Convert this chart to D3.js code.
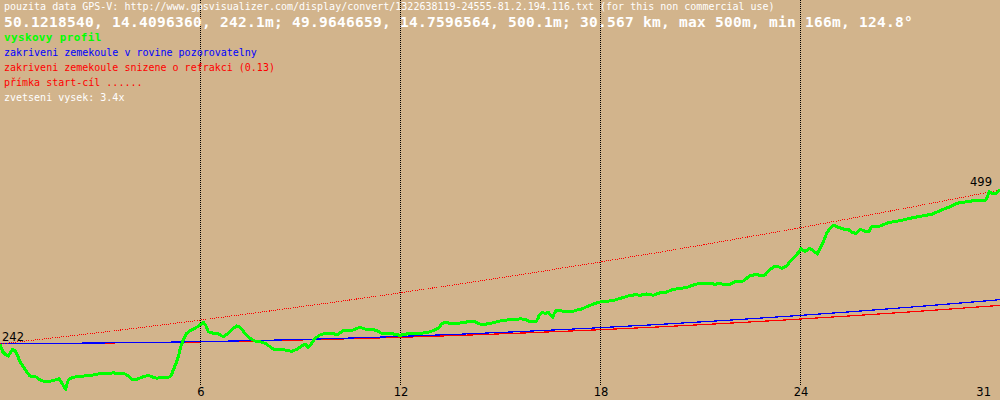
<!DOCTYPE html>
<html>
<head>
<meta charset="utf-8">
<script src="https://cdn.jsdelivr.net/npm/d3@7"></script>
<style>
  html, body { margin: 0; padding: 0; background: #d2b48c; }
  svg { display: block; }
</style>
</head>
<body>
<div id="chart"></div>
<script>
// ---- data ----
const totalKm = 30.567;
const startElev = 242.1;
const endElev = 500.1;

// elevation profile (km, m)
const profileKm = [0.000,0.083,0.183,0.254,0.306,0.388,0.459,0.529,0.611,0.712,0.816,0.917,1.018,1.122,1.223,1.324,1.476,1.629,1.733,1.803,1.886,1.956,2.008,2.039,2.088,2.192,2.345,2.497,2.650,2.852,3.005,3.262,3.463,3.616,3.769,3.922,4.056,4.178,4.331,4.533,4.686,4.790,4.943,5.144,5.227,5.297,5.380,5.450,5.523,5.603,5.686,5.808,5.961,6.113,6.214,6.288,6.367,6.520,6.673,6.826,6.979,7.131,7.235,7.336,7.489,7.642,7.795,7.947,8.100,8.253,8.354,8.559,8.712,8.916,9.069,9.222,9.323,9.424,9.528,9.629,9.781,9.934,10.188,10.292,10.393,10.494,10.698,10.851,11.004,11.157,11.362,11.515,11.667,11.820,12.022,12.227,12.432,12.634,12.838,13.043,13.245,13.398,13.501,13.602,13.755,13.960,14.162,14.315,14.468,14.571,14.672,14.877,15.079,15.284,15.488,15.641,15.742,15.895,16.048,16.201,16.384,16.445,16.485,16.558,16.690,16.760,16.833,16.894,16.943,17.016,17.218,17.524,17.628,17.781,17.934,18.136,18.340,18.545,18.799,19.003,19.205,19.410,19.563,19.768,19.970,20.174,20.379,20.581,20.786,20.990,21.192,21.397,21.703,21.855,22.008,22.161,22.314,22.519,22.721,22.824,22.925,23.130,23.283,23.384,23.485,23.589,23.689,23.790,23.894,24.047,24.148,24.301,24.402,24.484,24.606,24.738,24.860,24.983,25.065,25.166,25.270,25.371,25.493,25.624,25.777,25.930,26.034,26.166,26.288,26.349,26.492,26.563,26.645,26.899,27.153,27.459,27.816,28.222,28.479,28.733,29.039,29.243,29.445,29.751,30.008,30.108,30.161,30.240,30.343,30.445,30.567];
const profileElev = [242.1,229.1,223.6,221.9,226.4,233.1,230.8,223.6,212.4,204.0,195.6,188.4,188.4,186.2,181.7,180.0,179.5,180.5,182.9,183.9,177.2,170.5,166.0,173.3,181.7,185.5,187.2,187.2,189.6,190.1,191.8,191.8,193.9,191.8,193.4,188.4,181.7,182.9,186.2,189.6,186.2,184.6,186.2,186.2,188.4,198.4,209.7,220.7,237.5,248.7,258.8,264.3,268.3,273.8,278.3,273.8,262.6,259.9,258.8,254.2,259.9,268.3,272.2,270.0,259.9,251.5,247.0,245.9,243.2,237.5,233.6,233.6,232.0,229.8,233.1,238.6,242.0,236.5,243.2,251.5,257.1,259.9,259.9,257.1,260.9,264.3,263.8,266.6,270.0,267.1,267.1,264.3,259.9,258.8,258.8,256.6,258.8,259.9,259.9,260.9,264.3,268.3,275.5,278.3,276.7,276.7,277.7,279.4,280.5,277.7,275.5,275.5,277.7,280.5,282.2,283.4,282.2,284.4,283.0,279.7,279.4,285.0,290.6,294.4,293.4,295.1,290.6,286.7,293.4,298.9,296.8,296.8,298.9,300.6,304.5,309.0,312.4,313.5,315.7,319.1,322.4,324.6,323.6,325.8,323.6,327.9,329.1,333.6,335.0,336.6,340.8,343.7,343.7,342.0,343.7,340.8,342.0,347.5,347.5,352.1,356.4,358.7,355.9,357.6,364.3,368.8,372.7,371.5,368.8,372.7,379.9,388.3,395.0,401.7,396.6,402.3,398.3,392.8,402.3,413.4,427.4,435.8,441.3,437.5,434.6,434.1,428.8,427.4,433.8,432.9,430.1,430.1,438.8,439.6,445.2,448.0,452.5,456.9,459.2,465.3,472.0,477.7,479.3,482.0,482.0,481.5,486.1,497.1,493.3,494.4,500.1];

// earth curvature lines (km, m above observer level)
const curveKm = [0,2,4,6,8,10,12,14,16,18,20,22,24,26,28,30,30.567];
const curvatureObserver = [0,0.31,1.26,2.83,5.02,7.85,11.30,15.38,20.09,25.43,31.39,37.98,45.20,53.05,61.53,70.63,73.33];
const curvatureRefraction = [0,0.27,1.09,2.46,4.37,6.83,9.83,13.38,17.48,22.12,27.31,33.05,39.33,46.16,53.53,61.45,63.80];
// straight line start-cíl (m)
const sightLine = [242.1,254.5,267.5,281.2,295.5,310.4,325.9,342.1,358.9,376.3,394.3,413.0,432.3,452.2,472.8,494.0,500.1];

// x ticks (km) and labels
const tickKm = [6.113, 12.227, 18.340, 24.454, 30.567];
const tickLabels = ["6", "12", "18", "24", "31"];
const endLabels = ["242", "499"];

// header texts
const headerLines = [
  "pouzita data GPS-V: http://www.gpsvisualizer.com/display/convert/1322638119-24555-81.2.194.116.txt (for this non commercial use)",
  "50.1218540, 14.4096360, 242.1m; 49.9646659, 14.7596564, 500.1m; 30.567 km, max 500m, min 166m, 124.8°",
  "vyskovy profil",
  "zakriveni zemekoule v rovine pozorovatelny",
  "zakriveni zemekoule snizene o refrakci (0.13)",
  "přímka start-cíl ......",
  "zvetseni vysek: 3.4x"
];

// ---- drawing ----
const W = 1000, H = 400;
const svg = d3.select("#chart").append("svg").attr("width", W).attr("height", H);
svg.append("rect").attr("width", W).attr("height", H).attr("fill", "#d2b48c");

const x = d3.scaleLinear().domain([0, totalKm]).range([0, W]);
const y = d3.scaleLinear().domain([148.2, 818.2]).range([H, 0]);

// vertical dotted grid
svg.append("g").selectAll("line").data(tickKm.slice(0, 4)).join("line")
  .attr("x1", d => Math.round(x(d)) + 0.5).attr("x2", d => Math.round(x(d)) + 0.5)
  .attr("y1", 0).attr("y2", 385)
  .attr("stroke", "#000").attr("stroke-width", 1)
  .attr("stroke-dasharray", "1,1")
  .attr("shape-rendering", "crispEdges");

// tick labels
svg.append("g").selectAll("text").data(tickKm).join("text")
  .attr("x", (d, i) => i < 4 ? Math.round(x(d)) + 1 : x(d) - 9)
  .attr("y", 396)
  .attr("text-anchor", (d, i) => i < 4 ? "middle" : "end")
  .attr("font-family", "DejaVu Sans")
  .attr("font-size", 11.5)
  .attr("fill", "#000")
  .text((d, i) => tickLabels[i]);

// header text
const headerStyle = [
  {y: 10, size: 10, weight: "normal", fill: "#ffffff", ls: 0},
  {y: 27, size: 14.5, weight: "bold", fill: "#ffffff", ls: 0.27},
  {y: 41, size: 11, weight: "bold", fill: "#00ff00", ls: 0.35},
  {y: 56, size: 10, weight: "normal", fill: "#0000ff", ls: 0},
  {y: 71, size: 10, weight: "normal", fill: "#ff0000", ls: 0},
  {y: 86, size: 10, weight: "normal", fill: "#ff0000", ls: 0},
  {y: 101, size: 10, weight: "normal", fill: "#ffffff", ls: 0}
];
svg.append("g").selectAll("text").data(headerLines).join("text")
  .attr("x", 4)
  .attr("y", (d, i) => headerStyle[i].y)
  .attr("font-family", "DejaVu Sans Mono")
  .attr("font-size", (d, i) => headerStyle[i].size)
  .attr("font-weight", (d, i) => headerStyle[i].weight)
  .attr("letter-spacing", (d, i) => headerStyle[i].ls)
  .attr("fill", (d, i) => headerStyle[i].fill)
  .attr("xml:space", "preserve")
  .text(d => d);

// curvature lines
const curveLine = arr => d3.line()
  .x((d, i) => x(curveKm[i]))
  .y((d, i) => y(startElev + arr[i]) - 0.5)(arr);

svg.append("path").attr("d", curveLine(curvatureRefraction))
  .attr("fill", "none").attr("stroke", "#ff0000").attr("stroke-width", 1.2)
  .attr("shape-rendering", "crispEdges");
svg.append("path").attr("d", curveLine(curvatureObserver))
  .attr("fill", "none").attr("stroke", "#0000ff").attr("stroke-width", 1.2)
  .attr("shape-rendering", "crispEdges");

// straight line start-cíl (dotted)
svg.append("path")
  .attr("d", d3.line().x((d, i) => x(curveKm[i])).y(d => y(d))(sightLine))
  .attr("fill", "none").attr("stroke", "#ff0000").attr("stroke-width", 1)
  .attr("stroke-dasharray", "1,1.2")
  .attr("shape-rendering", "crispEdges");

// elevation profile
svg.append("path")
  .attr("d", d3.line().x((d, i) => x(profileKm[i])).y(d => y(d))(profileElev))
  .attr("fill", "none").attr("stroke", "#00ff00").attr("stroke-width", 3)
  .attr("stroke-linejoin", "round")
  .attr("shape-rendering", "crispEdges");

// end labels
svg.append("text").attr("x", 2).attr("y", 341)
  .attr("font-family", "DejaVu Sans").attr("font-size", 11.5).attr("fill", "#000")
  .text(endLabels[0]);
svg.append("text").attr("x", 992).attr("y", 186).attr("text-anchor", "end")
  .attr("font-family", "DejaVu Sans").attr("font-size", 11.5).attr("fill", "#000")
  .text(endLabels[1]);
</script>
</body>
</html>
